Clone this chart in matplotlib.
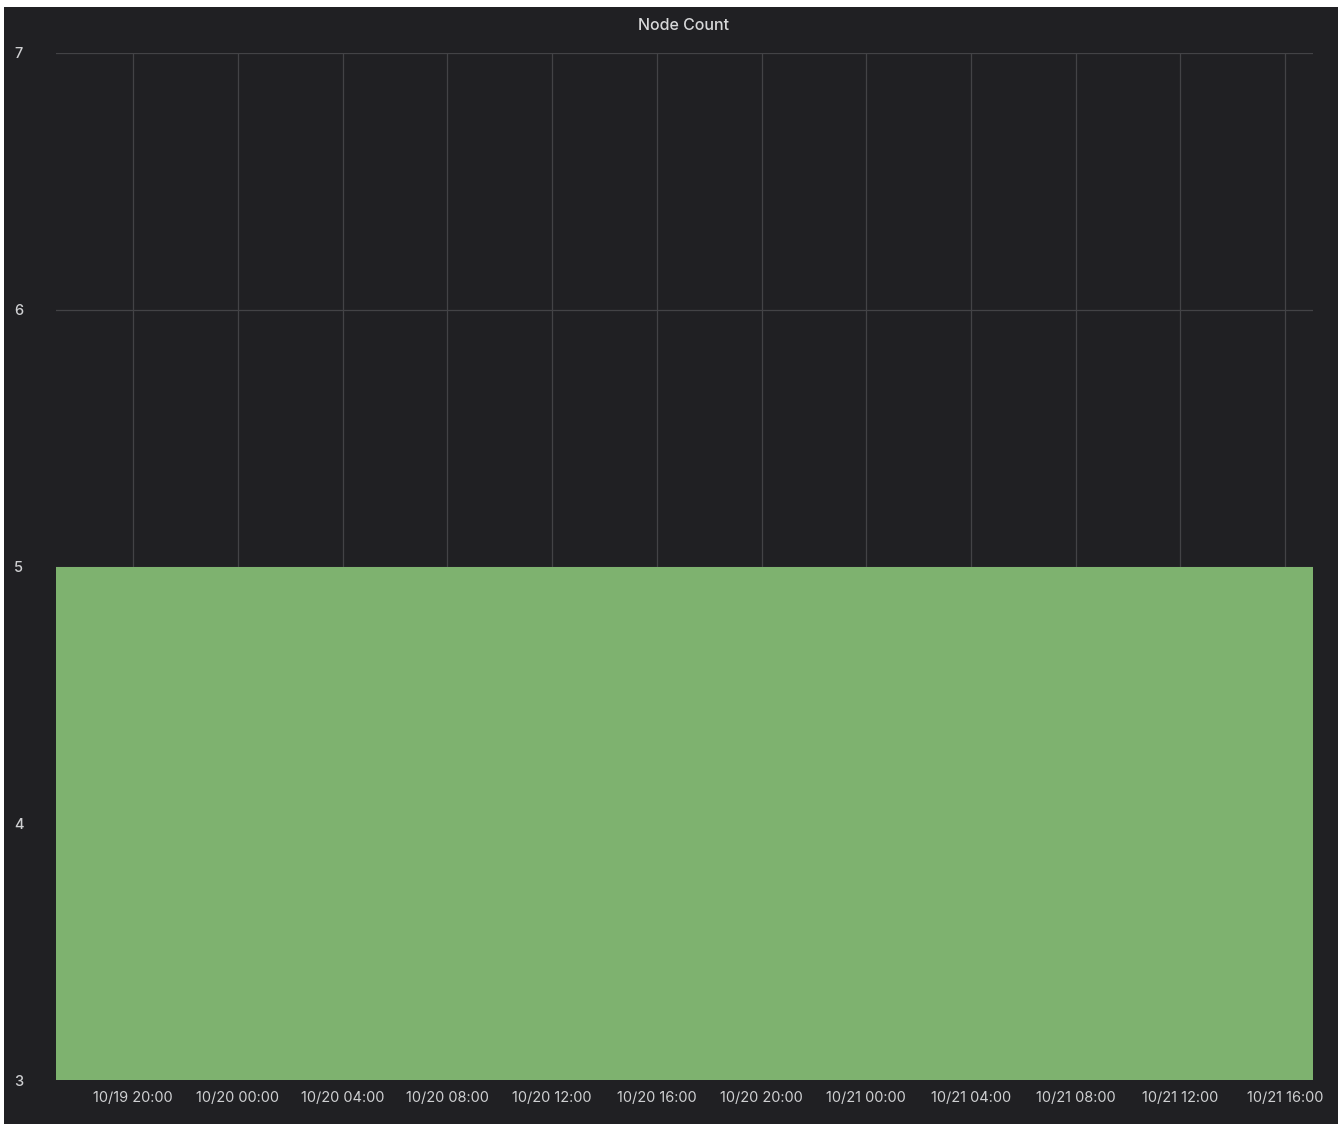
import matplotlib.pyplot as plt
import matplotlib.dates as mdates
from matplotlib.patches import Rectangle
import numpy as np
import pandas as pd

plt.rcParams['font.family'] = ['Inter', 'DejaVu Sans']
plt.rcParams['font.size'] = 10.5

# Data
title = "Node Count"
times = pd.to_datetime(["2023-10-19 17:03", "2023-10-20 05:00", "2023-10-20 17:00",
                        "2023-10-21 05:00", "2023-10-21 17:04"])
node_count = np.array([5, 5, 5, 5, 5])
y_ticks = [3, 4, 5, 6, 7]
x_ticks = pd.to_datetime(["2023-10-19 20:00", "2023-10-20 00:00", "2023-10-20 04:00",
                          "2023-10-20 08:00", "2023-10-20 12:00", "2023-10-20 16:00",
                          "2023-10-20 20:00", "2023-10-21 00:00", "2023-10-21 04:00",
                          "2023-10-21 08:00", "2023-10-21 12:00", "2023-10-21 16:00"])

W, H = 1338, 1124
bg = "#202023"
fig = plt.figure(figsize=(W / 100, H / 100), dpi=100, facecolor="white")
# dark panel (white strip on top and left)
fig.patches.append(Rectangle((4 / W, 0), 1 - 4 / W, 1 - 7 / H,
                             transform=fig.transFigure, facecolor=bg,
                             edgecolor="none", zorder=-10))

ax = fig.add_axes([56 / W, 1 - 1080 / H, (1313 - 56) / W, (1080 - 53) / H])
ax.set_zorder(5)
ax.set_facecolor(bg)

ax.fill_between(times, 3, node_count, step="post", color="#7eb26f",
                linewidth=0, zorder=2)

ax.set_xlim(times[0], times[-1])
ax.set_ylim(3, 7)
ax.set_yticks(y_ticks)
ax.set_xticks(x_ticks)
ax.xaxis.set_major_formatter(mdates.DateFormatter("%m/%d %H:%M"))

ax.grid(True, color="#434346", linewidth=0.9, zorder=1)
ax.set_axisbelow(True)
for s in ax.spines.values():
    s.set_visible(False)

ax.tick_params(axis="both", length=0, colors="#cfd0d2", labelsize=10.5)
ax.tick_params(axis="x", pad=8)
for lbl in ax.get_yticklabels():
    lbl.set_horizontalalignment("left")
    lbl.set_fontweight("medium")
ax.tick_params(axis="y", pad=30)

fig.text(684 / W, 1 - 25 / H, title, ha="center", va="center",
         color="#d8d9da", fontsize=11.5, fontweight="medium")

plt.savefig("out.png", dpi=100, facecolor=fig.get_facecolor())
plt.close()
